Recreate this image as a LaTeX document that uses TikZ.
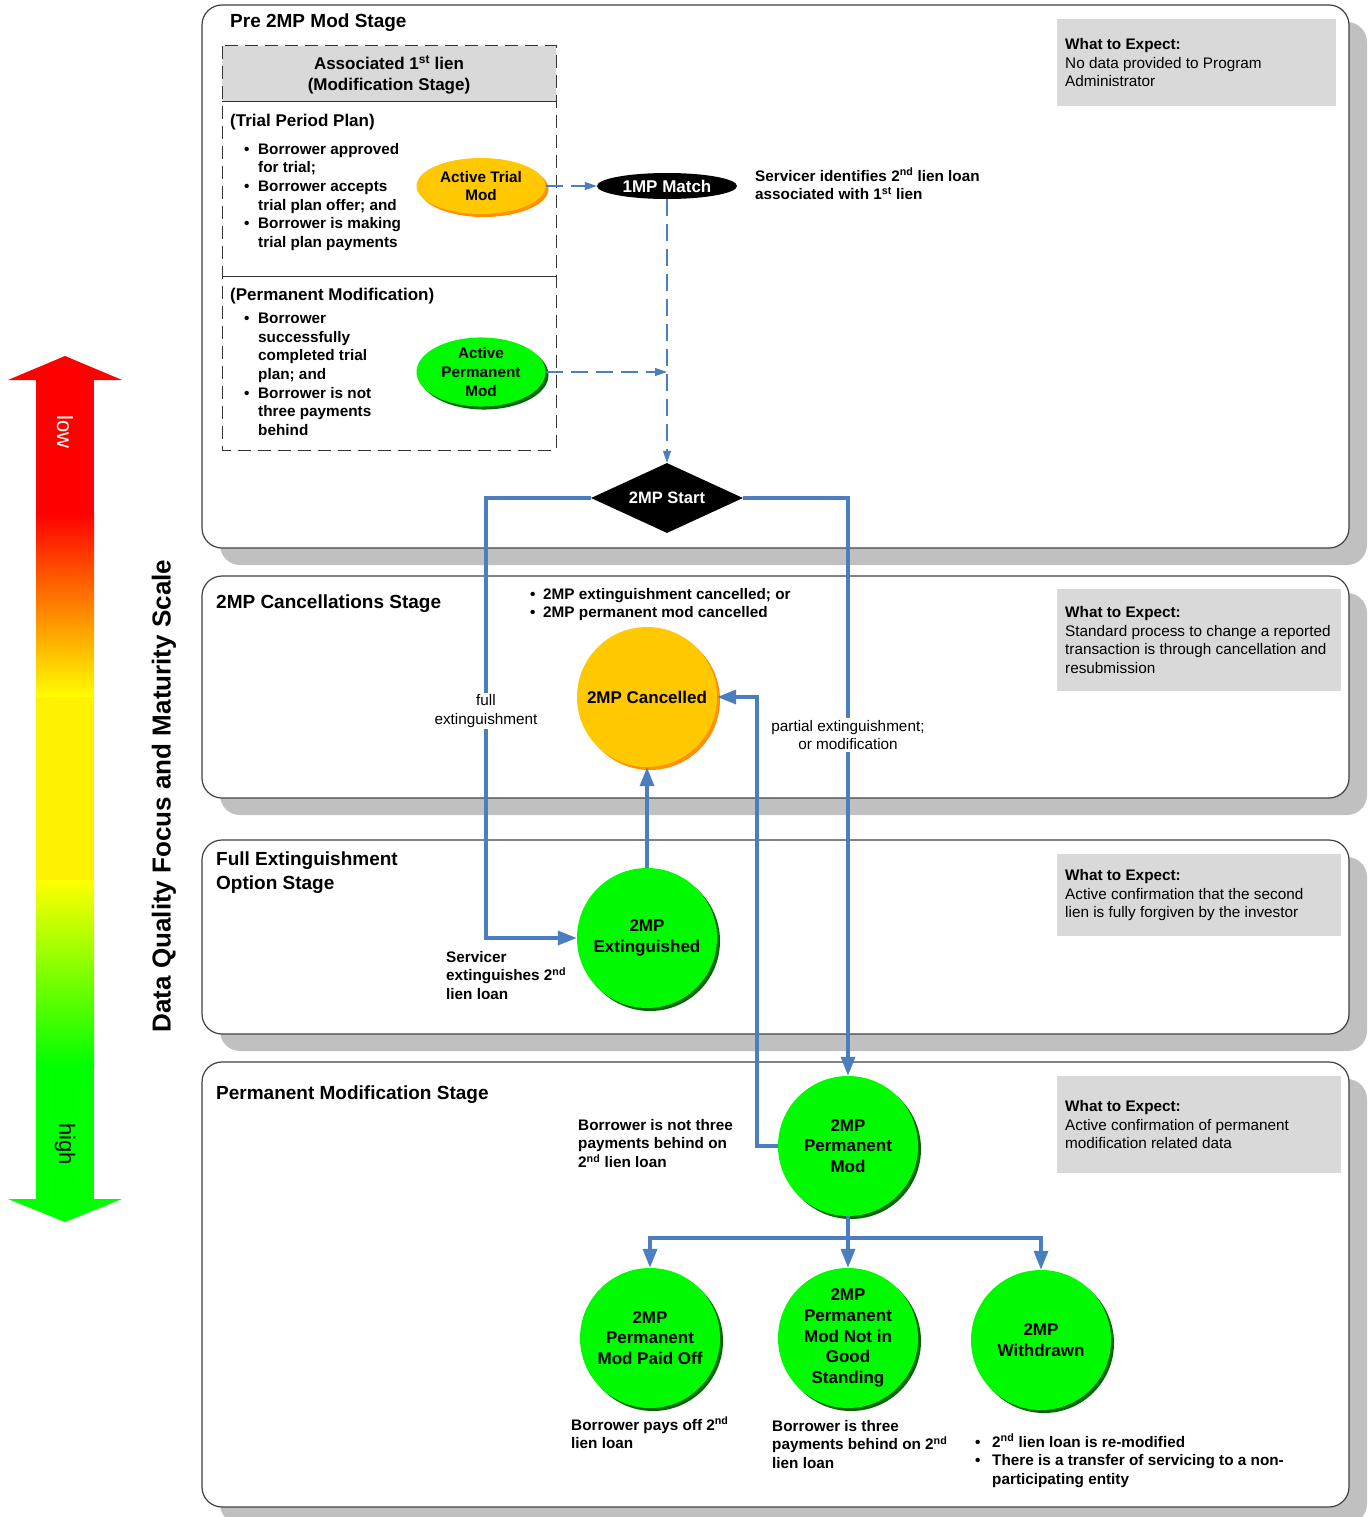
\documentclass[tikz,border=0pt]{standalone}
\usepackage{fontspec}
\setmainfont{Liberation Sans}
\usetikzlibrary{arrows.meta,shapes.geometric,shadows,positioning}
\definecolor{flowblue}{RGB}{74,126,190}
\definecolor{goldfill}{RGB}{255,200,0}
\definecolor{goldshade}{RGB}{255,145,0}
\definecolor{greenfill}{RGB}{0,250,0}
\definecolor{greenshade}{RGB}{0,105,0}
\definecolor{boxgray}{RGB}{217,217,217}
\definecolor{panelshade}{RGB}{192,192,192}
\newcommand{\bulpt}[1][14pt]{\makebox[#1][l]{\textbullet}}
\newcommand{\bulind}[1][14pt]{\hspace*{#1}}

\begin{document}
\begin{tikzpicture}[
  x=1pt, y=-1pt,
  every node/.style={inner sep=0pt, font=\fontsize{15.3}{18.6}\selectfont\bfseries},
  stagetitle/.style={anchor=west, font=\fontsize{19}{24}\selectfont\bfseries},
  subhead/.style={anchor=west, font=\fontsize{17}{21}\selectfont\bfseries},
  panel/.style={draw=black!75, line width=1.2pt, fill=white, rounded corners=20pt},
  panelshadow/.style={fill=panelshade, rounded corners=20pt},
  txt/.style={align=left, anchor=north west},
  plain/.style={font=\fontsize{15.3}{18.6}\selectfont},
  expbox/.style={fill=boxgray, anchor=north west},
  exptxt/.style={plain, align=left, anchor=west},
  state/.style={circle, minimum size=140pt, align=center, font=\fontsize{17}{20.8}\selectfont\bfseries},
  greenstate/.style={state, fill=greenfill, drop shadow={shadow xshift=3pt, shadow yshift=-3pt, opacity=1, fill=greenshade}},
  goldstate/.style={state, fill=goldfill, drop shadow={shadow xshift=3pt, shadow yshift=-3pt, opacity=1, fill=goldshade}},
  modoval/.style={ellipse, minimum width=129pt, align=center, font=\fontsize{15.3}{18.8}\selectfont\bfseries},
  flowline/.style={draw=flowblue, line width=3.5pt},
  flow/.style={flowline, -{Triangle[length=19pt,width=14pt]}},
  dashflow/.style={draw=flowblue, line width=1.2pt, dash pattern=on 17pt off 8pt, -{Triangle[length=12pt,width=8pt]}}
]
\useasboundingbox (0,0) rectangle (1369,1517);

% stage panels
\foreach \ytop/\ybot in {5/548, 576/798, 840/1034, 1062/1507} {
  \fill[panelshadow] (220,\ytop+17) rectangle (1367,\ybot+17);
  \draw[panel] (202,\ytop) rectangle (1349,\ybot);
}

% maturity scale
\fill[red] (8,380) -- (65,356) -- (122,380) -- cycle;
\fill[red] (36,379) rectangle (94,514);
\shade[top color=red, bottom color=yellow] (36,513) rectangle (94,698);
\fill[yellow] (36,697) rectangle (94,881);
\shade[top color=yellow, bottom color=green] (36,880) rectangle (94,1067);
\fill[green] (36,1066) rectangle (94,1200);
\fill[green] (8,1199) -- (122,1199) -- (65,1222) -- cycle;
\node[rotate=-90, text=white, font=\fontsize{22}{26}\selectfont] (lowlbl) at (65,432) {low};
\node[rotate=-90, font=\fontsize{22}{26}\selectfont] (highlbl) at (65,1144) {high};
\node[rotate=90, font=\fontsize{26}{30}\selectfont\bfseries] (scalelbl) at (164,796) {Data Quality Focus and Maturity Scale};

% first lien box
\fill[boxgray] (222,46) rectangle (556,102);
\draw[black!80, line width=1pt, dash pattern=on 13pt off 7pt] (222,46) rectangle (556,450);
\draw[black!80, line width=1pt] (222,102) -- (556,102) (222,276) -- (556,276);
\node[align=center, font=\fontsize{17}{21}\selectfont\bfseries] (assochead) at (389,75) {Associated 1\textsuperscript{st} lien\\(Modification Stage)};
\node[subhead] (trialhead) at (230,122) {(Trial Period Plan)};
\node[txt] (trialtxt) at (244,143) {\bulpt Borrower approved\\\bulind for trial;\\\bulpt Borrower accepts\\\bulind trial plan offer; and\\\bulpt Borrower is making\\\bulind trial plan payments};
\node[subhead] (permhead) at (230,296) {(Permanent Modification)};
\node[txt] (permtxt) at (244,313) {\bulpt Borrower\\\bulind successfully\\\bulind completed trial\\\bulind plan; and\\\bulpt Borrower is not\\\bulind three payments\\\bulind behind};

\node[modoval, minimum height=56pt, fill=goldfill, drop shadow={shadow xshift=3pt, shadow yshift=-3pt, opacity=1, fill=goldshade}] (trialmod) at (481,186) {Active Trial\\Mod};
\node[modoval, minimum height=69pt, fill=greenfill, drop shadow={shadow xshift=3pt, shadow yshift=-3pt, opacity=1, fill=greenshade}] (permmod) at (481,372) {Active\\Permanent\\Mod};
\node[ellipse, fill=black, text=white, minimum width=140pt, minimum height=26pt, font=\fontsize{17}{20}\selectfont\bfseries] (match) at (667,186) {1MP Match};
\node[txt] (matchnote) at (755,168) {Servicer identifies 2\textsuperscript{nd} lien loan\\associated with 1\textsuperscript{st} lien};
\node[diamond, fill=black, text=white, aspect=2.2, minimum width=152pt, minimum height=70pt, font=\fontsize{16.5}{20}\selectfont\bfseries] (start) at (667,498) {2MP Start};

% titles and notes
\node[stagetitle] (pretitle) at (230,23) {Pre 2MP Mod Stage};
\node[stagetitle] (canctitle) at (216,604) {2MP Cancellations Stage};
\node[txt, font=\fontsize{19}{24}\selectfont\bfseries] (exttitle) at (216,852) {Full Extinguishment\\Option Stage};
\node[stagetitle] (pmtitle) at (216,1095) {Permanent Modification Stage};

\node[txt, font=\fontsize{15.3}{18}\selectfont\bfseries] (cancnote) at (530,588) {\bulpt[13pt]2MP extinguishment cancelled; or\\\bulpt[13pt]2MP permanent mod cancelled};
\node[txt] (extnote) at (446,951) {Servicer\\extinguishes 2\textsuperscript{nd}\\lien loan};
\node[txt] (pmnote) at (578,1119) {Borrower is not three\\payments behind on\\2\textsuperscript{nd} lien loan};
\node[txt] (paidnote) at (571,1417) {Borrower pays off 2\textsuperscript{nd}\\lien loan};
\node[txt] (notgoodnote) at (772,1420) {Borrower is three\\payments behind on 2\textsuperscript{nd}\\lien loan};
\node[txt] (withdrnote) at (975,1434) {\bulpt[17pt]2\textsuperscript{nd} lien loan is re-modified\\\bulpt[17pt]There is a transfer of servicing to a non-\\\bulind[17pt]participating entity};

% what to expect
\node[expbox, minimum width=279pt, minimum height=87pt] (exp1) at (1057,19) {};
\node[exptxt] (exp1txt) at ([xshift=8pt]exp1.west) {\textbf{What to Expect:}\\No data provided to Program\\Administrator};
\node[expbox, minimum width=284pt, minimum height=102pt] (exp2) at (1057,589) {};
\node[exptxt] (exp2txt) at ([xshift=8pt]exp2.west) {\textbf{What to Expect:}\\Standard process to change a reported\\transaction is through cancellation and\\resubmission};
\node[expbox, minimum width=284pt, minimum height=82pt] (exp3) at (1057,854) {};
\node[exptxt] (exp3txt) at ([xshift=8pt]exp3.west) {\textbf{What to Expect:}\\Active confirmation that the second\\lien is fully forgiven by the investor};
\node[expbox, minimum width=284pt, minimum height=97pt] (exp4) at (1057,1076) {};
\node[exptxt] (exp4txt) at ([xshift=8pt]exp4.west) {\textbf{What to Expect:}\\Active confirmation of permanent\\modification related data};

% states
\node[goldstate] (canc) at (647,697) {2MP Cancelled};
\node[greenstate] (ext) at (647,938) {2MP\\Extinguished};
\node[greenstate] (pm) at (848,1146) {2MP\\Permanent\\Mod};
\node[greenstate] (paid) at (650,1338) {2MP\\Permanent\\Mod Paid Off};
\node[greenstate] (notgood) at (848,1338) {2MP\\Permanent\\Mod Not in\\Good\\Standing};
\node[greenstate] (withdr) at (1041,1340) {2MP\\Withdrawn};

% connectors
\draw[dashflow] (trialmod.east) -- (match.west);
\draw[dashflow] (match.south) -- (start.north);
\draw[dashflow] (permmod.east) -- (permmod.east -| match.south);

\coordinate (fullturn) at (486,498);
\coordinate (partturn) at (848,498);
\coordinate (split) at (848,1238);
\draw[flow] (start.west) -- (fullturn) |- (ext.west);
\draw[flow] (start.east) -- (partturn) -- (pm.north);
\draw[flow] (ext.north) -- (canc.south);
\draw[flow] (pm.west) -- ++(-21,0) |- (canc.east);
\draw[flowline] (pm.south) -- (split);
\draw[flow] (split) -| (paid.north);
\draw[flow] (split) -- (notgood.north);
\draw[flow] (split) -| (withdr.north);

\node[plain, fill=white, align=center, inner sep=2pt] (fulllbl) at (486,711) {full\\extinguishment};
\node[plain, fill=white, align=center, inner sep=2pt] (partlbl) at (848,735) {partial extinguishment;\\or modification};
\end{tikzpicture}
\end{document}
